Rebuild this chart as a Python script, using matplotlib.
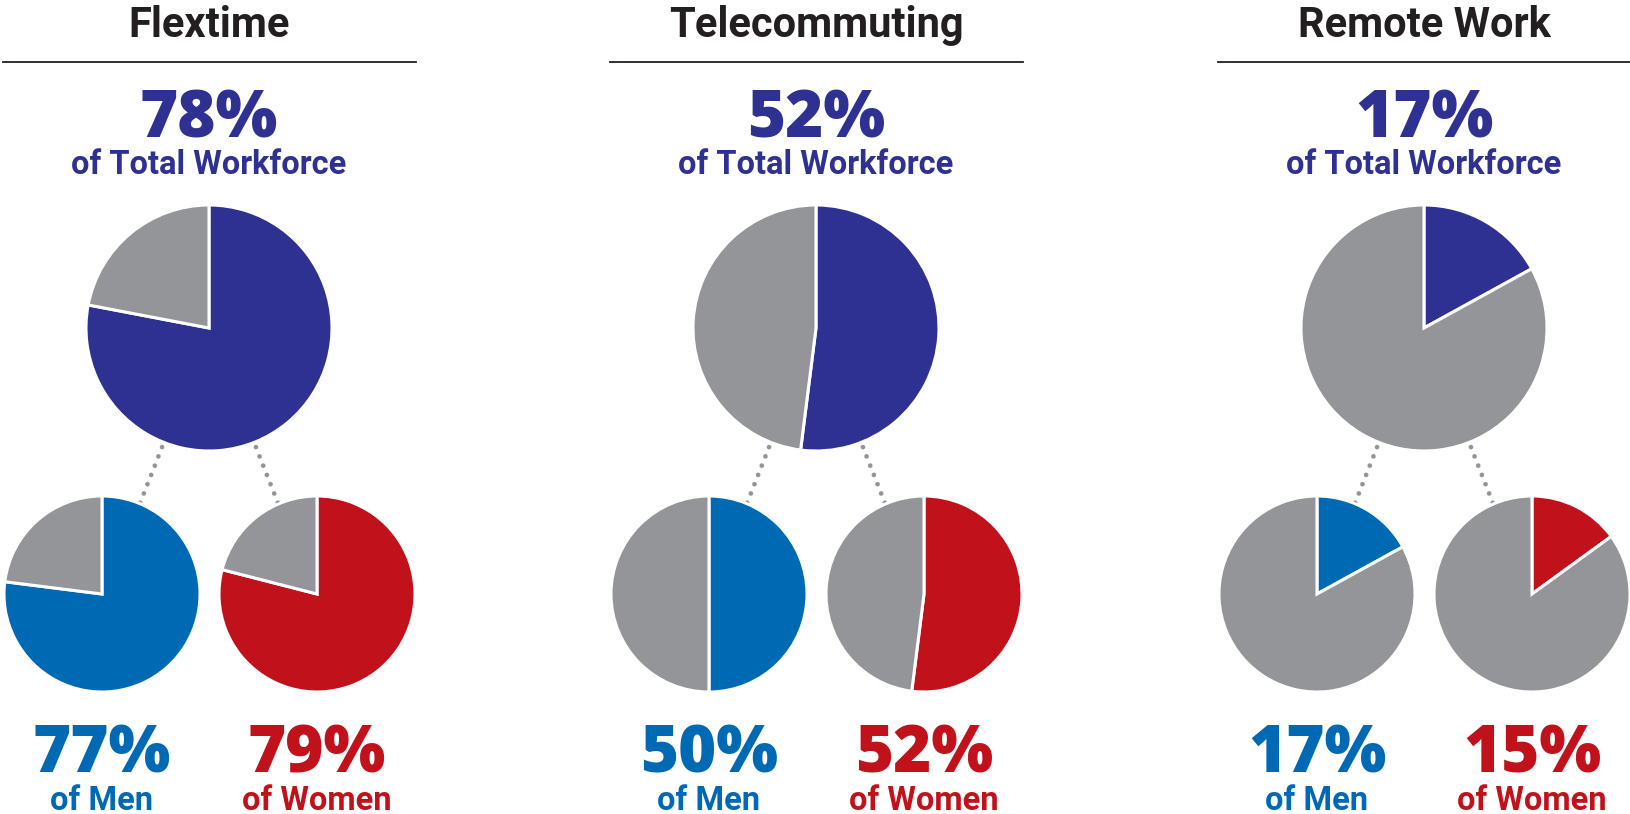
"""
Flexible work arrangements: share of workforce, men and women.
"""

import matplotlib.pyplot as plt
import numpy as np

plt.switch_backend("Agg")

W, H = 1631, 814

arrangements = ["Flextime", "Telecommuting", "Remote Work"]
total_pct = [78, 52, 17]
men_pct = [77, 50, 17]
women_pct = [79, 52, 15]

NAVY = "#2E3192"
BLUE = "#0069B4"
RED = "#C1121C"
GRAY = "#939598"
INK = "#231F20"

FONT = "Roboto"
NUM_FONT = "Open Sans"


def _y(y_img):
    """Convert a top-down pixel row to the axes' upward y coordinate."""
    return H - y_img


def _pie(ax, pct, cx, cy, r, color):
    ax.pie(
        [pct, 100 - pct],
        colors=[color, GRAY],
        startangle=90,
        counterclock=False,
        center=(cx, _y(cy)),
        radius=r,
        frame=True,
        wedgeprops=dict(edgecolor="white", linewidth=2.2),
    )


def _connector(ax, cx, cy, angle):
    a = np.deg2rad(angle)
    radii = np.array([128, 192])
    xs = cx + radii * np.cos(a)
    ys = _y(cy) + radii * np.sin(a)
    ax.plot(xs, ys, color=GRAY, linewidth=3.4, linestyle=(0, (0.01, 2.1)),
            dash_capstyle="round", zorder=0)


fig = plt.figure(figsize=(W / 100, H / 100), dpi=100)
ax = fig.add_axes([0, 0, 1, 1])

centers = [209, 816, 1424]
for name, cx, tot, men, women in zip(arrangements, centers, total_pct, men_pct, women_pct):
    ax.text(cx, _y(37), name, ha="center", va="baseline", fontsize=30,
            fontweight="bold", color=INK, family=FONT)
    ax.plot([cx - 206, cx + 207], [_y(62), _y(62)], color=INK, linewidth=1.3)

    ax.text(cx, _y(137), f"{tot}%", ha="center", va="baseline", fontsize=47,
            fontweight="heavy", color=NAVY, family=NUM_FONT)
    ax.text(cx, _y(174), "of Total Workforce", ha="center", va="baseline",
            fontsize=23.5, fontweight="bold", color=NAVY, family=FONT)

    for ang in (248.5, 291.5):
        _connector(ax, cx, 328, ang)

    _pie(ax, tot, cx, 328, 123, NAVY)

    for dx, pct, color, label in ((-107, men, BLUE, "of Men"), (108, women, RED, "of Women")):
        _pie(ax, pct, cx + dx, 594, 98, color)
        ax.text(cx + dx, _y(773), f"{pct}%", ha="center", va="baseline",
                fontsize=47, fontweight="heavy", color=color, family=NUM_FONT)
        ax.text(cx + dx, _y(810), label, ha="center", va="baseline",
                fontsize=23.5, fontweight="bold", color=color, family=FONT)

ax.set_xlim(0, W)
ax.set_ylim(0, H)
ax.set_aspect("equal")
ax.axis("off")

fig.savefig("out.png", dpi=100, facecolor="white")
plt.close(fig)
